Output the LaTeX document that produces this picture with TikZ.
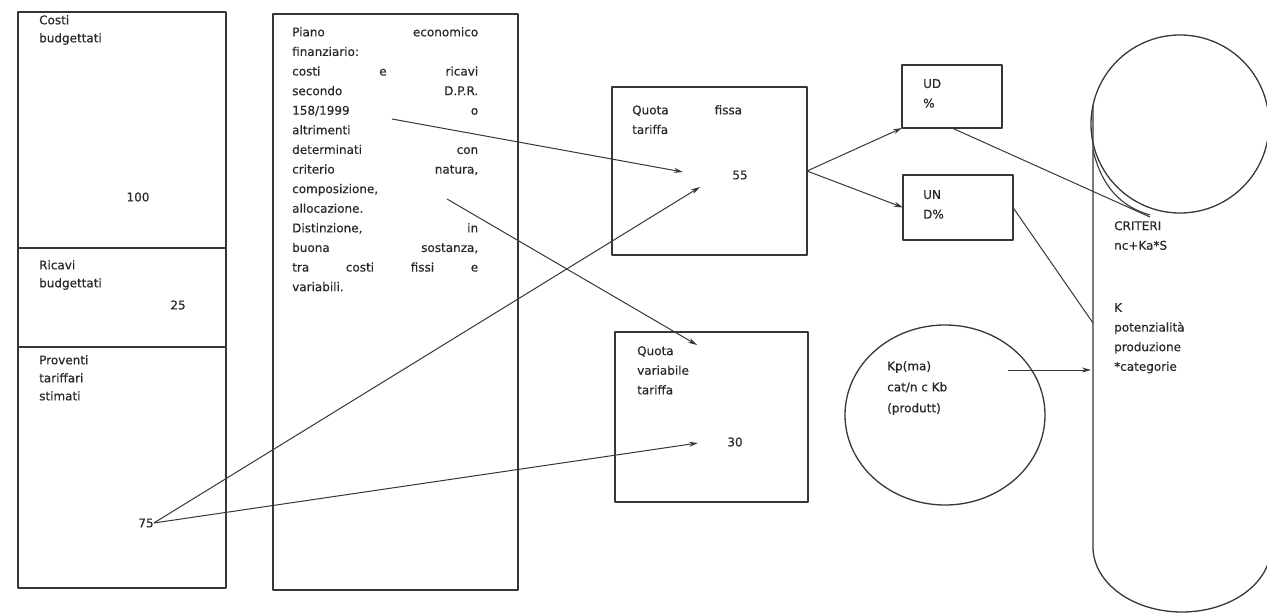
\documentclass[tikz,border=0pt]{standalone}
\usepackage{fontspec}
\setmainfont{DejaVu Sans}[FakeBold=0.4]
\usetikzlibrary{arrows.meta,positioning,shapes.geometric}
\definecolor{inkgray}{RGB}{55,55,55}
\definecolor{inktext}{RGB}{40,40,40}
\newcommand{\spreadline}[1]{\makebox[186pt][s]{#1}}

\tikzset{
  box/.style={draw=inkgray, line width=1.3pt, anchor=north west, inner sep=0pt, outer sep=0pt},
  boxtext/.style={anchor=north west, inner sep=0pt, align=left, text=inktext,
    font=\fontsize{12}{19.6}\selectfont},
  link/.style={draw=inkgray, line width=1pt, -{Stealth[length=9pt,width=5pt]}},
  plainlink/.style={draw=inkgray, line width=1pt},
}

\begin{document}
\begin{tikzpicture}[x=1pt, y=-1pt, line join=round]
  \fill[white] (0,0) rectangle (1267,616);
  \useasboundingbox (0,0) rectangle (1267,616);
  % left column
  \node[box, minimum width=208, minimum height=236] (costi) at (18,12) {};
  \node[box, minimum width=208, minimum height=99] (ricavi) at (costi.south west) {};
  \node[box, minimum width=208, minimum height=241] (proventi) at (ricavi.south west) {};
  \node[boxtext, font=\fontsize{12}{18}\selectfont] (costitxt) at (39,15) {Costi\\budgettati};
  \node[boxtext, anchor=center] (cento) at (138,197) {100};
  \node[boxtext, font=\fontsize{12}{18}\selectfont] (ricavitxt) at (39,260) {Ricavi\\budgettati};
  \node[boxtext, anchor=center] (venticinque) at (178,305) {25};
  \node[boxtext, font=\fontsize{12}{18}\selectfont] (proventitxt) at (39,355) {Proventi\\tariffari\\stimati};
  \node[boxtext, anchor=center] (settantacinque) at (146,523) {75};
  % piano economico finanziario
  \node[box, minimum width=245, minimum height=576] (piano) at (273,14) {};
  \node[boxtext] (pianotxt) at (292,27) {\spreadline{Piano economico}\\
    finanziario:\\
    \spreadline{costi e ricavi}\\
    \spreadline{secondo D.P.R.}\\
    \spreadline{158/1999 o}\\
    altrimenti\\
    \spreadline{determinati con}\\
    \spreadline{criterio natura,}\\
    composizione,\\
    allocazione.\\
    \spreadline{Distinzione, in}\\
    \spreadline{buona sostanza,}\\
    \spreadline{tra costi fissi e}\\
    variabili.};
  \coordinate (dpr) at (392,119);
  \coordinate (compos) at (447,199);
  % quote tariffa
  \node[box, minimum width=195, minimum height=168] (fissa) at (612,87) {};
  \node[boxtext] (fissatxt) at (632,105) {Quota\hspace{46pt}fissa\\tariffa};
  \node[boxtext, anchor=center] (cinquantacinque) at (740,175) {55};
  \node[box, minimum width=193, minimum height=170] (variabile) at (615,332) {};
  \node[boxtext] (variabiletxt) at (637,346) {Quota\\variabile\\tariffa};
  \node[boxtext, anchor=center] (trenta) at (735,442) {30};
  \coordinate (tipfa) at (683,172);
  \coordinate (tipfb) at (700,187);
  \coordinate (tipva) at (697,345);
  \coordinate (tipvb) at (698,443);
  % utenze
  \node[box, minimum width=100, minimum height=63] (ud) at (902,65) {};
  \node[boxtext] (udtxt) at (923,79) {UD\\\%};
  \node[box, minimum width=110, minimum height=65] (un) at (903,175) {};
  \node[boxtext] (untxt) at (923,190) {UN\\D\%};
  % coefficienti
  \node[draw=inkgray, line width=1.3pt, ellipse, minimum width=200, minimum height=180,
    inner sep=0pt] (kpell) at (945,415) {};
  \node[boxtext, font=\fontsize{12}{21}\selectfont] (kptxt) at (887,361) {Kp(ma)\\cat/n c Kb\\(produtt)};
  \coordinate (kpend) at (1008,370);
  % criteri
  \node[draw=inkgray, line width=1.3pt, circle, minimum size=178, inner sep=0pt] (crit) at (1180,124) {};
  \draw[inkgray, line width=1.3pt] (1093,105) -- (1093,547)
    .. controls (1093,583) and (1133,612) .. (1182,612)
    .. controls (1231,612) and (1271,583) .. (1271,547) -- (1271,124);
  \draw[inkgray, line width=1.1pt] (1093,150) .. controls (1102,188) and (1122,207) .. (1150,215);
  \node[boxtext] (criteritxt) at (1114,221) {CRITERI\\nc+Ka*S};
  \node[boxtext] (kpottxt) at (1114,303) {K\\potenzialità\\produzione\\*categorie};
  \coordinate (critlow) at (1150,217);
  \coordinate (stadmid) at (1093,323);
  \coordinate (stadkp) at (1091,370);
  % connectors
  \draw[link] (dpr) -- (tipfa);
  \draw[link] (settantacinque.east) -- (tipfb);
  \draw[link] (compos) -- (tipva);
  \draw[link] (settantacinque.east) -- (tipvb);
  \draw[link] (fissa.east) -- (ud.south west);
  \draw[link] (fissa.east) -- (un.west);
  \draw[plainlink] (ud.south) -- (critlow);
  \draw[plainlink] (un.east) -- (stadmid);
  \draw[link] (kpend) -- (stadkp);
\end{tikzpicture}
\end{document}
